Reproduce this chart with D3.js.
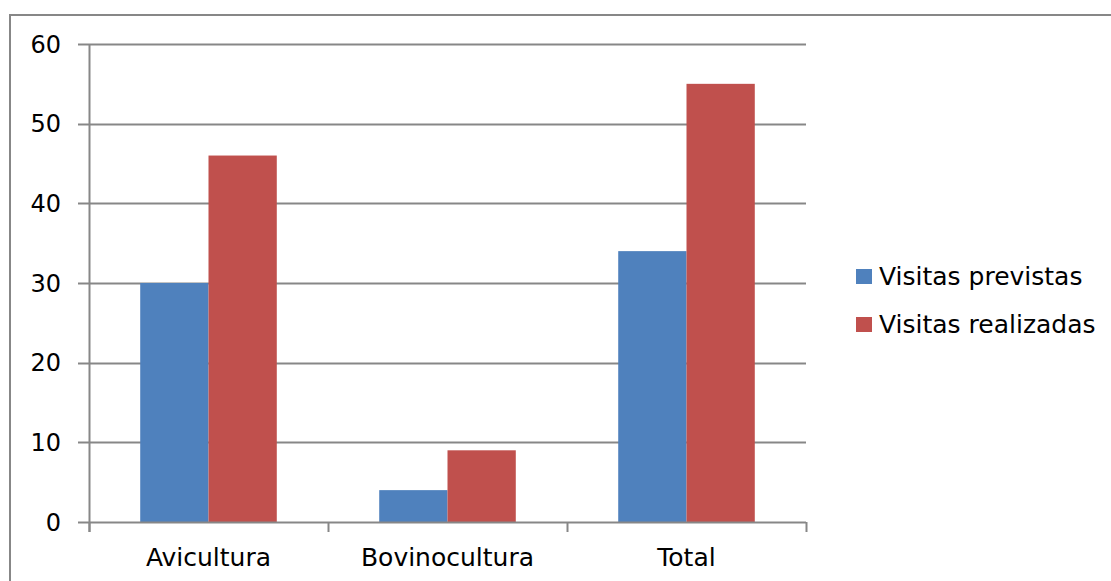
<!DOCTYPE html>
<html>
<head>
<meta charset="utf-8">
<script src="https://cdn.jsdelivr.net/npm/d3@7"></script>
<style>
  html, body { margin: 0; padding: 0; background: #fff; }
  svg { display: block; }
  text { font-family: "DejaVu Sans", sans-serif; fill: #000; }
</style>
</head>
<body>
<svg id="chart" width="1111" height="581"></svg>
<script>
// Visits per sector
const categories = ["Avicultura", "Bovinocultura", "Total"];
const seriesNames = ["Visitas previstas", "Visitas realizadas"];
const previstas = [30, 4, 34];
const realizadas = [46, 9, 55];
const yTicks = [0, 10, 20, 30, 40, 50, 60];
const colors = ["#4F81BD", "#C0504D"];

const svg = d3.select("#chart");
const W = 1111, H = 581;

// outer frame
svg.append("path")
  .attr("d", `M10,${H + 5} V15 H${W + 5}`)
  .attr("fill", "none")
  .attr("stroke", "#878787")
  .attr("stroke-width", 2);

const plot = { left: 89, right: 806, top: 44, bottom: 522 };

const x0 = d3.scaleBand()
  .domain(categories)
  .range([plot.left, plot.right])
  .paddingInner(0)
  .paddingOuter(0);

const x1 = d3.scaleBand()
  .domain(seriesNames)
  .range([0, x0.bandwidth()])
  .paddingInner(0)
  .paddingOuter(0.75);

const y = d3.scaleLinear().domain([0, 60]).range([plot.bottom, plot.top]);

// horizontal gridlines with left tick stubs
svg.append("g")
  .selectAll("line")
  .data(yTicks.filter(d => d > 0))
  .join("line")
  .attr("x1", plot.left - 11)
  .attr("x2", plot.right)
  .attr("y1", d => Math.round(y(d)) + 0.5)
  .attr("y2", d => Math.round(y(d)) + 0.5)
  .attr("stroke", "#878787")
  .attr("stroke-width", 2);

// y-axis labels
svg.append("g")
  .selectAll("text")
  .data(yTicks)
  .join("text")
  .attr("x", 61)
  .attr("y", d => y(d) + 8.5)
  .attr("text-anchor", "end")
  .attr("font-size", 24)
  .text(d => d);

// bars
const rows = categories.map((c, i) => ({ cat: c, vals: [previstas[i], realizadas[i]] }));
const groups = svg.append("g")
  .selectAll("g")
  .data(rows)
  .join("g")
  .attr("transform", d => `translate(${x0(d.cat)},0)`);

groups.selectAll("rect")
  .data(d => d.vals.map((v, j) => ({ name: seriesNames[j], value: v, j })))
  .join("rect")
  .attr("x", d => x1(d.name))
  .attr("width", x1.bandwidth())
  .attr("y", d => y(d.value))
  .attr("height", d => y(0) - y(d.value))
  .attr("fill", d => colors[d.j]);

// y-axis line
svg.append("line")
  .attr("x1", plot.left + 0.5).attr("x2", plot.left + 0.5)
  .attr("y1", plot.top).attr("y2", plot.bottom + 10)
  .attr("stroke", "#878787").attr("stroke-width", 2);

// baseline with left stub
svg.append("line")
  .attr("x1", plot.left - 11).attr("x2", plot.right)
  .attr("y1", plot.bottom + 0.5).attr("y2", plot.bottom + 0.5)
  .attr("stroke", "#878787").attr("stroke-width", 2);

// category boundary ticks
const bounds = categories.map(c => x0(c)).concat([plot.right]);
svg.append("g")
  .selectAll("line")
  .data(bounds)
  .join("line")
  .attr("x1", d => d + 0.5).attr("x2", d => d + 0.5)
  .attr("y1", plot.bottom).attr("y2", plot.bottom + 10)
  .attr("stroke", "#878787").attr("stroke-width", 2);

// category labels
svg.append("g")
  .selectAll("text")
  .data(categories)
  .join("text")
  .attr("x", d => x0(d) + x0.bandwidth() / 2)
  .attr("y", 566)
  .attr("text-anchor", "middle")
  .attr("font-size", 25)
  .text(d => d);

// legend
const legend = svg.append("g")
  .selectAll("g")
  .data(seriesNames)
  .join("g")
  .attr("transform", (d, i) => `translate(856,${269 + i * 48})`);

legend.append("rect")
  .attr("width", 16).attr("height", 15)
  .attr("fill", (d, i) => colors[i]);

legend.append("text")
  .attr("x", 23)
  .attr("y", 16)
  .attr("font-size", 25)
  .text(d => d);
</script>
</body>
</html>
